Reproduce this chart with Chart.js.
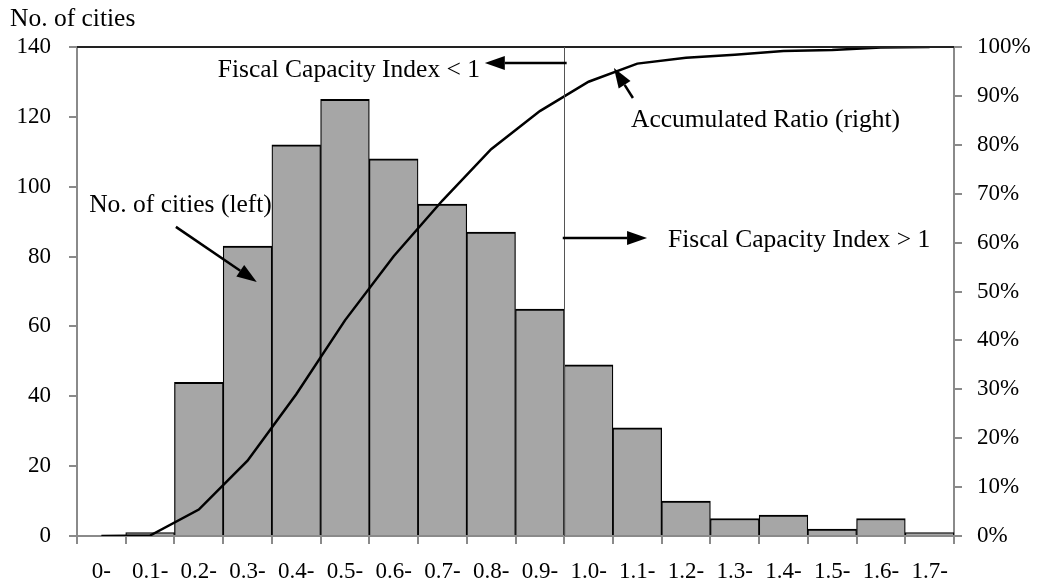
<!DOCTYPE html>
<html>
<head>
<meta charset="utf-8">
<script src="https://cdn.jsdelivr.net/npm/chart.js@4.4.0/dist/chart.umd.min.js"></script>
<style>
  html, body { margin: 0; padding: 0; background: #ffffff; }
  #wrap { width: 1040px; height: 584px; }
</style>
</head>
<body>
<div id="wrap"><canvas id="c" width="1040" height="584"></canvas></div>
<script>
// ---- data ----
const categories = ["0-", "0.1-", "0.2-", "0.3-", "0.4-", "0.5-", "0.6-", "0.7-", "0.8-", "0.9-",
                    "1.0-", "1.1-", "1.2-", "1.3-", "1.4-", "1.5-", "1.6-", "1.7-"];
const cityCounts = [0, 1, 44, 83, 112, 125, 108, 95, 87, 65, 49, 31, 10, 5, 6, 2, 5, 1];
const accumulatedRatio = [0, 0.1, 5.4, 15.4, 29.0, 44.1, 57.2, 68.6, 79.1, 86.9,
                          92.9, 96.6, 97.8, 98.4, 99.2, 99.4, 99.9, 100];
const leftTicks = { min: 0, max: 140, step: 20 };
const rightTicks = { min: 0, max: 100, step: 10 };
const leftTitle = "No. of cities";
const thresholdIndex = 9.5; // boundary between 0.9- and 1.0-

// annotation texts (positions in category-index / left-axis value units)
const notes = [
  { text: "Fiscal Capacity Index < 1", x: 2.39, y: 131.4 },
  { text: "No. of cities (left)", x: -0.25, y: 92.8 },
  { text: "Fiscal Capacity Index > 1", x: 11.63, y: 82.7 },
  { text: "Accumulated Ratio (right)", x: 10.87, y: 117.1 }
];
const arrows = [
  { from: [9.55, 135.4], to: [7.87, 135.4] },
  { from: [1.53, 88.5], to: [3.19, 72.7] },
  { from: [9.47, 85.3], to: [11.20, 85.3] },
  { from: [10.91, 125.4], to: [10.52, 134.0] }
];

const TICK_FONT = { family: "'Liberation Serif', 'Times New Roman', serif", size: 23 };
const NOTE_FONT = "25.5px 'Liberation Serif', 'Times New Roman', serif";
const AXIS_GRAY = '#8a8a8a';

const decorPlugin = {
  id: 'decor',
  afterDatasetsDraw(chart) {
    const ctx = chart.ctx;
    const xs = chart.scales.x, ys = chart.scales.y;
    const area = chart.chartArea;
    ctx.save();
    // top border line
    ctx.strokeStyle = '#222';
    ctx.lineWidth = 2;
    ctx.beginPath();
    ctx.moveTo(area.left, area.top);
    ctx.lineTo(area.right, area.top);
    ctx.stroke();
    // threshold vertical line
    const vx = Math.round(xs.getPixelForValue(thresholdIndex)) + 0.5;
    ctx.strokeStyle = '#555';
    ctx.lineWidth = 1;
    ctx.beginPath();
    ctx.moveTo(vx, area.top);
    ctx.lineTo(vx, area.bottom);
    ctx.stroke();
    // arrows
    ctx.strokeStyle = '#000';
    ctx.fillStyle = '#000';
    arrows.forEach(a => {
      const x1 = xs.getPixelForValue(a.from[0]), y1 = ys.getPixelForValue(a.from[1]);
      const x2 = xs.getPixelForValue(a.to[0]), y2 = ys.getPixelForValue(a.to[1]);
      const ang = Math.atan2(y2 - y1, x2 - x1);
      const hl = 20, hw = 7;
      const bx = x2 - hl * Math.cos(ang), by = y2 - hl * Math.sin(ang);
      ctx.lineWidth = 2.5;
      ctx.beginPath();
      ctx.moveTo(x1, y1);
      ctx.lineTo(bx, by);
      ctx.stroke();
      ctx.beginPath();
      ctx.moveTo(x2, y2);
      ctx.lineTo(bx + hw * Math.sin(ang), by - hw * Math.cos(ang));
      ctx.lineTo(bx - hw * Math.sin(ang), by + hw * Math.cos(ang));
      ctx.closePath();
      ctx.fill();
    });
    // texts
    ctx.font = NOTE_FONT;
    ctx.fillStyle = '#000';
    ctx.textAlign = 'left';
    ctx.textBaseline = 'alphabetic';
    notes.forEach(n => {
      ctx.fillText(n.text, xs.getPixelForValue(n.x), ys.getPixelForValue(n.y));
    });
    // left axis title
    ctx.fillText(leftTitle, 10, 26);
    ctx.restore();
  }
};

const gridCommon = {
  display: true,
  drawOnChartArea: false,
  drawTicks: true,
  tickLength: 8,
  color: AXIS_GRAY,
  lineWidth: 2
};

new Chart(document.getElementById('c'), {
  type: 'bar',
  data: {
    labels: categories,
    datasets: [
      {
        type: 'line',
        label: 'Accumulated Ratio (right)',
        data: accumulatedRatio,
        yAxisID: 'y1',
        borderColor: '#000',
        borderWidth: 2.5,
        pointRadius: 0,
        tension: 0,
        fill: false,
        order: 0
      },
      {
        type: 'bar',
        label: 'No. of cities (left)',
        data: cityCounts,
        yAxisID: 'y',
        backgroundColor: '#a6a6a6',
        borderColor: '#000',
        borderWidth: { top: 2, left: 1.25, right: 1.25, bottom: 0 },
        borderSkipped: false,
        barPercentage: 1,
        categoryPercentage: 1,
        order: 1
      }
    ]
  },
  options: {
    responsive: false,
    animation: false,
    devicePixelRatio: 1,
    layout: { padding: { top: 47, left: 0, right: 0, bottom: 0 } },
    plugins: { legend: { display: false }, tooltip: { enabled: false }, title: { display: false } },
    scales: {
      x: {
        type: 'category',
        offset: true,
        grid: Object.assign({}, gridCommon, { offset: true }),
        border: { display: true, color: AXIS_GRAY, width: 2 },
        ticks: { font: TICK_FONT, color: '#000', padding: 14, maxRotation: 0, autoSkip: false },
        afterFit(s) { s.height = 48; }
      },
      y: {
        position: 'left',
        min: leftTicks.min, max: leftTicks.max,
        grid: gridCommon,
        border: { display: true, color: AXIS_GRAY, width: 2 },
        ticks: { stepSize: leftTicks.step, font: TICK_FONT, color: '#000', padding: 18 },
        afterFit(s) { s.width = 77; }
      },
      y1: {
        position: 'right',
        min: rightTicks.min, max: rightTicks.max,
        grid: gridCommon,
        border: { display: true, color: AXIS_GRAY, width: 2 },
        ticks: { stepSize: rightTicks.step, font: TICK_FONT, color: '#000', padding: 15,
                 callback: v => v + '%' },
        afterFit(s) { s.width = 86; }
      }
    }
  },
  plugins: [decorPlugin]
});
</script>
</body>
</html>
